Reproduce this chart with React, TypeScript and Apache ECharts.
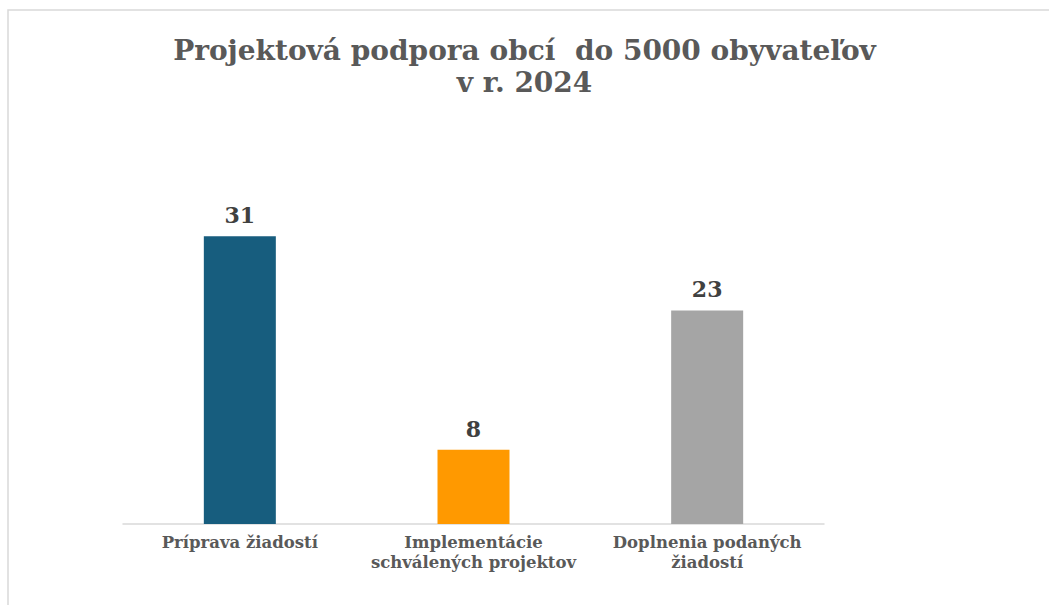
import React, { useEffect, useRef } from "react";
import * as echarts from "echarts";

const titleLines = ["Projektová podpora obcí  do 5000 obyvateľov", "v r. 2024"];
const categories = ["Príprava žiadostí", "Implementácie\nschválených projektov", "Doplnenia podaných\nžiadostí"];
const values = [31, 8, 23];
const barColors = ["#175D7E", "#FF9900", "#A5A5A5"];

export default function App() {
  const ref = useRef<HTMLDivElement>(null);
  useEffect(() => {
    document.body.style.margin = "0";
    const chart = echarts.init(ref.current!, null, { renderer: "svg" });
    chart.setOption({
      animation: false,
      backgroundColor: "#ffffff",
      title: {
        text: titleLines.join("\n"),
        left: "center",
        top: 29,
        textStyle: {
          fontFamily: "DejaVu Serif",
          fontWeight: "bold",
          fontSize: 28,
          lineHeight: 32,
          color: "#595959",
        },
      },
      graphic: [
        {
          type: "rect",
          shape: { x: 8, y: 10, width: 1100, height: 700 },
          style: { fill: "none", stroke: "#d9d9d9", lineWidth: 1.5 },
          silent: true,
        },
      ],
      grid: { left: 123, right: 225, top: 199, bottom: 81 },
      xAxis: {
        type: "category",
        data: categories,
        axisTick: { show: false },
        axisLine: { lineStyle: { color: "#d9d9d9", width: 1.5 } },
        axisLabel: {
          interval: 0,
          margin: 8,
          fontFamily: "DejaVu Serif",
          fontWeight: "bold",
          fontSize: 16.5,
          lineHeight: 20,
          color: "#595959",
        },
      },
      yAxis: {
        type: "value",
        min: 0,
        max: 35,
        show: false,
        splitLine: { show: false },
      },
      series: [
        {
          type: "bar",
          barWidth: 72,
          data: values.map((v, i) => ({ value: v, itemStyle: { color: barColors[i] } })),
          label: {
            show: true,
            position: "top",
            distance: 10,
            fontFamily: "DejaVu Serif",
            fontWeight: "bold",
            fontSize: 22,
            color: "#404040",
          },
        },
      ],
    });
    return () => chart.dispose();
  }, []);
  return <div ref={ref} style={{ width: 1049, height: 605 }} />;
}
